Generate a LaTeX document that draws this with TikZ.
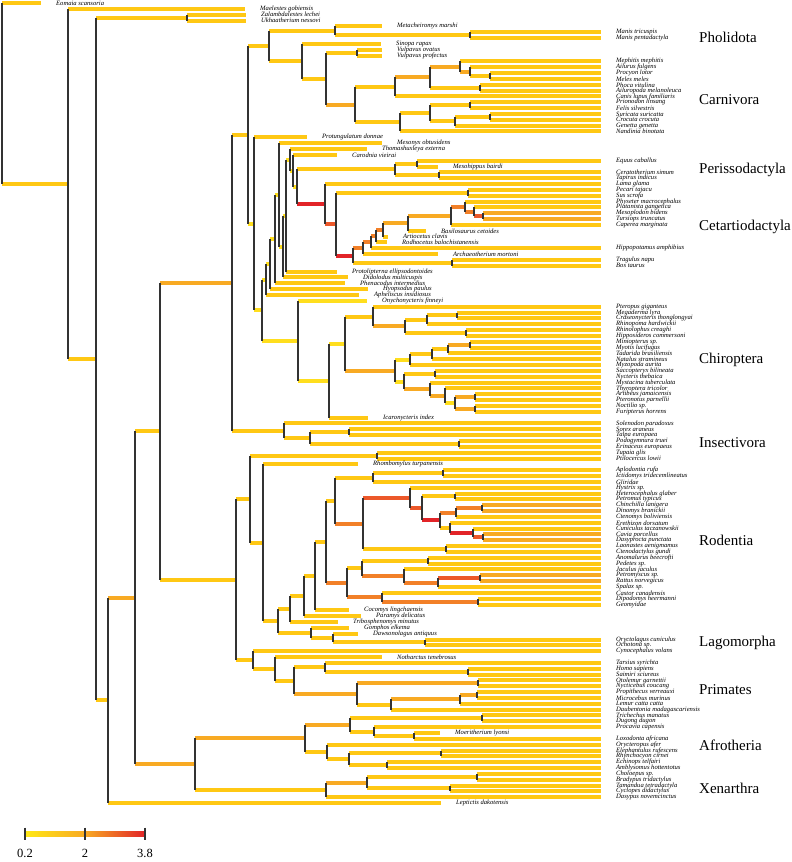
\documentclass[tikz,border=0pt]{standalone}
\usepackage{fontspec}
\setmainfont{Liberation Serif}
\usetikzlibrary{positioning}
\definecolor{rateA}{RGB}{255,222,30}
\definecolor{rateB}{RGB}{255,200,20}
\definecolor{rateC}{RGB}{248,170,35}
\definecolor{rateD}{RGB}{242,128,40}
\definecolor{rateE}{RGB}{236,88,42}
\definecolor{rateF}{RGB}{226,36,40}
\tikzset{
  branch/.style={line width=4pt},
  joint/.style={draw=black!80,line width=1.1pt},
  tiplab/.style={anchor=west,inner sep=0pt,font=\itshape\fontsize{6.6}{7}\selectfont},
  cladelab/.style={anchor=west,inner sep=0pt,font=\fontsize{15}{18}\selectfont},
  scalelab/.style={inner sep=0pt,font=\fontsize{12.5}{14}\selectfont}
}
\begin{document}
\begin{tikzpicture}[x=1pt,y=-5.84pt]
  \useasboundingbox (0,-0.5137) rectangle (792,147.09);
  % internal branches: parent x / node x / node y / rate colour
  \foreach \xa/\xb/\yy/\cc in {
    2/68/30.98/rateB, 68/96/60.96/rateB, 96/187/2.5/rateB, 96/108/119.41/rateB,
    108/135/101.83/rateC, 135/160/73.31/rateB, 135/195/130.34/rateC,
    160/232/47.9/rateC, 160/236/98.73/rateB,
    232/248/22.58/rateB, 248/269/7.36/rateB, 269/335/4.75/rateB, 335/470/5.5/rateB,
    269/302/9.97/rateB, 302/326/12.95/rateB, 326/357/8.5/rateB, 326/355/17.39/rateC,
    355/395/14.34/rateB, 395/430/12.69/rateC, 430/460/10.875/rateC, 460/470/11.75/rateC,
    470/490/12.5/rateB, 430/480/14.5/rateB, 355/400/20.44/rateB, 400/430/18.875/rateB,
    430/470/17.5/rateB, 430/455/20.25/rateB, 455/490/19.5/rateB,
    248/254/37.8/rateA, 254/262/52.6/rateA, 262/266/47.36/rateA, 266/270/44.72/rateA,
    270/275/40.43/rateA, 275/279/32.86/rateA, 279/283/41.72/rateA, 283/286/36.43/rateA,
    286/290/26.87/rateA, 290/293/28.73/rateA, 293/297/31.47/rateA,
    297/395/28.5/rateB, 395/417/27.5/rateB, 395/439/29.5/rateB,
    297/325/34.43/rateF, 325/336/37.87/rateE, 336/468/32.5/rateB, 336/353/43.24/rateF,
    353/363/41.98/rateD, 353/452/44.5/rateB, 363/371/40.96/rateD, 371/376/39.93/rateD,
    376/383/38.86/rateD, 383/408/37.72/rateC, 408/451/36.44/rateC, 451/465/34.875/rateD,
    465/474/35.75/rateD, 474/483/36.5/rateE,
    262/298/57.83/rateA, 298/329/64.656/rateA, 329/345/58.3125/rateA, 345/373/53.6875/rateB,
    373/405/55.375/rateC, 405/427/54.25/rateB, 427/457/53.5/rateB, 405/466/56.5/rateB,
    345/395/62.9375/rateC, 395/410/61.0625/rateA, 410/432/60.125/rateB, 432/448/59.25/rateB,
    448/470/58.5/rateC, 395/404/64.8125/rateA, 404/435/63.5/rateB, 404/430/66.125/rateC,
    430/445/67.25/rateC, 445/455/68.5/rateA, 455/475/67.5/rateC, 455/475/69.5/rateC,
    232/284/73.25/rateB, 284/310/74.5/rateB, 310/349/73.5/rateB, 310/459/75.5/rateB,
    236/250/84.96/rateB, 250/377/77.5/rateB, 250/263/92.41/rateB, 263/278/105.83/rateB,
    278/290/103.78/rateB, 290/304/101.56/rateB, 304/315/98.12/rateB, 315/326/92.23/rateB,
    326/335/85.19/rateB, 335/373/81.25/rateB, 373/443/80.5/rateB, 335/363/89.13/rateD,
    363/410/84.77/rateE, 410/422/86.53/rateE, 422/455/84.5/rateB, 422/440/88.5625/rateF,
    440/456/87.25/rateD, 456/482/86.5/rateD, 440/450/89.875/rateB, 450/473/90.75/rateF,
    473/483/91.5/rateE, 363/446/93.5/rateB,
    326/347/99.28/rateD, 347/362/96.81/rateB, 362/428/95.5/rateB, 362/404/98.125/rateD,
    404/438/99.25/rateD, 438/480/98.5/rateE, 347/382/101.75/rateD, 382/478/102.5/rateD,
    278/311/107.875/rateB, 311/333/108.75/rateB, 333/425/109.5/rateB,
    236/253/112.51/rateB, 253/275/114.02/rateB, 275/294/116.03/rateB, 294/325/113.75/rateB,
    325/468/114.5/rateB, 294/357/118.31/rateC, 357/478/116.5/rateC, 357/391/120.125/rateB,
    391/460/119.25/rateC, 460/477/118.5/rateC,
    195/305/125.94/rateC, 305/350/123.625/rateC, 350/482/122.5/rateB, 350/374/124.75/rateB,
    374/414/125.5/rateB, 305/327/128.25/rateB, 327/349/129.5/rateB, 349/441/128.5/rateB,
    349/387/130.5/rateB, 195/326/134.75/rateB, 326/367/133.5/rateC, 367/477/132.5/rateB,
    367/450/134.5/rateB}
    \draw[branch,draw=\cc] (\xa,\yy) -- (\xb,\yy);
  % terminal branches and taxon names: index / parent x / end x / colour / name
  \foreach \i/\xa/\xe/\cc/\nm in {
    0/2/41/rateB/Eomaia scansoria, 1/68/245/rateB/Maelestes gobiensis,
    2/187/246/rateB/Zalambdalestes lechei, 3/187/246/rateB/Ukhaatherium nessovi,
    4/335/382/rateB/Metacheiromys marshi, 5/470/601/rateB/Manis tricuspis,
    6/470/601/rateB/Manis pentadactyla, 7/302/381/rateB/Sinopa rapax,
    8/357/382/rateB/Vulpavus ovatus, 9/357/382/rateB/Vulpavus profectus,
    10/460/601/rateB/Mephitis mephitis, 11/470/601/rateB/Ailurus fulgens,
    12/490/601/rateB/Procyon lotor, 13/490/601/rateB/Meles meles,
    14/480/601/rateB/Phoca vitulina, 15/480/601/rateB/Ailuropoda melanoleuca,
    16/395/601/rateB/Canis lupus familiaris, 17/470/601/rateB/Prionodon linsang,
    18/470/601/rateB/Felis silvestris, 19/490/601/rateB/Suricata suricatta,
    20/490/601/rateB/Crocuta crocuta, 21/455/601/rateB/Genetta genetta,
    22/400/601/rateB/Nandinia binotata, 23/254/307/rateB/Protungulatum donnae,
    24/279/382/rateB/Mesonyx obtusidens, 25/290/367/rateB/Thomashuxleya externa,
    26/293/337/rateB/Carodnia vieirai, 27/417/601/rateB/Equus caballus,
    28/417/438/rateB/Mesohippus bairdi, 29/439/601/rateB/Ceratotherium simum,
    30/439/601/rateB/Tapirus indicus, 31/325/601/rateB/Lama glama,
    32/468/601/rateB/Pecari tajacu, 33/468/601/rateB/Sus scrofa,
    34/465/601/rateB/Physeter macrocephalus, 35/474/601/rateB/Platanista gangetica,
    36/483/601/rateC/Mesoplodon bidens, 37/483/601/rateC/Tursiops truncatus,
    38/451/601/rateB/Caperea marginata, 39/408/426/rateB/Basilosaurus cetoides,
    40/383/388/rateB/Artiocetus clavis, 41/376/387/rateB/Rodhocetus balochistanensis,
    42/371/601/rateB/Hippopotamus amphibius, 43/363/438/rateB/Archaeotherium mortoni,
    44/452/601/rateB/Tragulus napu, 45/452/601/rateB/Bos taurus,
    46/286/337/rateB/Protolipterna ellipsodontoides, 47/283/348/rateB/Didolodus multicuspis,
    48/275/345/rateB/Phenacodus intermedius, 49/270/368/rateB/Hyopsodus paulus,
    50/266/359/rateB/Apheliscus insidiosus, 51/298/367/rateA/Onychonycteris finneyi,
    52/373/601/rateB/Pteropus giganteus, 53/457/601/rateB/Megaderma lyra,
    54/457/601/rateB/Craseonycteris thonglongyai, 55/427/601/rateB/Rhinopoma hardwickii,
    56/466/601/rateB/Rhinolophus creaghi, 57/466/601/rateB/Hipposideros commersoni,
    58/470/601/rateB/Miniopterus sp., 59/470/601/rateB/Myotis lucifugus,
    60/448/601/rateB/Tadarida brasiliensis, 61/432/601/rateB/Natalus stramineus,
    62/410/601/rateB/Myzopoda aurita, 63/435/601/rateB/Saccopteryx bilineata,
    64/435/601/rateB/Nycteris thebaica, 65/430/601/rateB/Mystacina tuberculata,
    66/445/601/rateB/Thyroptera tricolor, 67/475/601/rateB/Artibeus jamaicensis,
    68/475/601/rateB/Pteronotus parnellii, 69/475/601/rateB/Noctilio sp.,
    70/475/601/rateB/Furipterus horrens, 71/329/368/rateB/Icaronycteris index,
    72/284/601/rateB/Solenodon paradoxus, 73/349/601/rateB/Sorex araneus,
    74/349/601/rateB/Talpa europaea, 75/459/601/rateB/Podogymnura truei,
    76/459/601/rateB/Erinaceus europaeus, 77/377/601/rateB/Tupaia glis,
    78/377/601/rateB/Ptilocercus lowii, 79/263/358/rateB/Rhombomylus turpanensis,
    80/443/601/rateB/Aplodontia rufa, 81/443/601/rateB/Ictidomys tridecemlineatus,
    82/373/601/rateB/Gliridae, 83/410/601/rateB/Hystrix sp.,
    84/455/601/rateB/Heterocephalus glaber, 85/455/601/rateB/Petromus typicus,
    86/482/601/rateC/Chinchilla lanigera, 87/482/601/rateC/Dinomys branickii,
    88/456/601/rateB/Ctenomys boliviensis, 89/450/601/rateB/Erethizon dorsatum,
    90/473/601/rateB/Cuniculus taczanowskii, 91/483/601/rateC/Cavia porcellus,
    92/483/601/rateC/Dasyprocta punctata, 93/446/601/rateB/Laonastes aenigmamus,
    94/446/601/rateB/Ctenodactylus gundi, 95/428/601/rateB/Anomalurus beecrofti,
    96/428/601/rateB/Pedetes sp., 97/404/601/rateB/Jaculus jaculus,
    98/480/601/rateC/Petromyscus sp., 99/480/601/rateC/Rattus norvegicus,
    100/438/601/rateB/Spalax sp., 101/382/601/rateB/Castor canadensis,
    102/478/601/rateB/Dipodomys heermanni, 103/478/601/rateB/Geomyidae,
    104/315/349/rateB/Cocomys lingchaensis, 105/304/361/rateB/Paramys delicatus,
    106/290/338/rateB/Tribosphenomys minutus, 107/311/349/rateB/Gomphos elkema,
    108/333/358/rateB/Dawsonolagus antiquus, 109/425/601/rateB/Oryctolagus cuniculus,
    110/425/601/rateB/Ochotona sp., 111/253/601/rateB/Cynocephalus volans,
    112/275/382/rateB/Notharctus tenebrosus, 113/325/601/rateB/Tarsius syrichta,
    114/468/601/rateB/Homo sapiens, 115/468/601/rateB/Saimiri sciureus,
    116/478/601/rateB/Otolemur garnettii, 117/478/601/rateB/Nycticebus coucang,
    118/477/601/rateB/Propithecus verreauxi, 119/477/601/rateB/Microcebus murinus,
    120/460/601/rateB/Lemur catta catta, 121/391/601/rateB/Daubentonia madagascariensis,
    122/482/601/rateB/Trichechus manatus, 123/482/601/rateB/Dugong dugon,
    124/374/601/rateB/Procavia capensis, 125/414/440/rateB/Moeritherium lyonsi,
    126/414/601/rateB/Loxodonta africana, 127/327/601/rateB/Orycteropus afer,
    128/441/601/rateB/Elephantulus rufescens, 129/441/601/rateB/Rhynchocyon cirnei,
    130/387/601/rateB/Echinops telfairi, 131/387/601/rateB/Amblysomus hottentotus,
    132/477/601/rateB/Choloepus sp., 133/477/601/rateB/Bradypus tridactylus,
    134/450/601/rateB/Tamandua tetradactyla, 135/450/601/rateB/Cyclopes didactylus,
    136/326/601/rateB/Dasypus novemcinctus, 137/108/441/rateB/Leptictis dakotensis}
  {
    \draw[branch,draw=\cc] (\xa,\i) -- (\xe,\i);
    \node[tiplab] (tip\i) at (\xe+15,\i) {\nm};
  }
  % node joints: x / first child / last child
  \foreach \xx/\ya/\yb in {
    2/0/30.98, 68/1/60.96, 96/2.5/119.41, 187/2/3, 108/101.83/137, 135/73.31/130.34,
    160/47.9/98.73, 195/125.94/134.75, 232/22.58/73.25, 236/84.96/112.51,
    248/7.36/37.8, 269/4.75/9.97, 335/4/5.5, 470/5/6, 302/7/12.95, 326/8.5/17.39,
    357/8/9, 355/14.34/20.44, 395/12.69/16, 430/10.875/14.5, 460/10/11.75, 470/11/12.5,
    490/12/13, 480/14/15, 400/18.875/22, 430/17.5/20.25, 470/17/18, 455/19.5/21, 490/19/20,
    254/23/52.6, 262/47.36/57.83, 266/44.72/50, 270/40.43/49, 275/32.86/48, 279/24/41.72,
    283/36.43/47, 286/26.87/46, 290/25/28.73, 293/26/31.47, 297/28.5/34.43,
    395/27.5/29.5, 417/27/28, 439/29/30, 325/31/37.87, 336/32.5/43.24, 468/32/33,
    353/41.98/44.5, 363/40.96/43, 452/44/45, 371/39.93/42, 376/38.86/41, 383/37.72/40,
    408/36.44/39, 451/34.875/38, 465/34/35.75, 474/35/36.5, 483/36/37,
    298/51/64.656, 329/58.3125/71, 345/53.6875/62.9375, 373/52/55.375, 405/54.25/56.5,
    427/53.5/55, 457/53/54, 466/56/57, 395/61.0625/64.8125, 410/60.125/62, 432/59.25/61,
    448/58.5/60, 470/58/59, 404/63.5/66.125, 435/63/64, 430/65/67.25, 445/66/68.5,
    455/67.5/69.5, 475/67/68, 475/69/70,
    284/72/74.5, 310/73.5/75.5, 349/73/74, 459/75/76,
    250/77.5/92.41, 377/77/78, 263/79/105.83, 278/103.78/107.875, 290/101.56/106,
    304/98.12/105, 315/92.23/104, 326/85.19/99.28, 335/81.25/89.13, 373/80.5/82,
    443/80/81, 363/84.77/93.5, 410/83/86.53, 422/84.5/88.5625, 455/84/85,
    440/87.25/89.875, 456/86.5/88, 482/86/87, 450/89/90.75, 473/90/91.5, 483/91/92,
    446/93/94, 347/96.81/101.75, 362/95.5/98.125, 428/95/96, 404/97/99.25,
    438/98.5/100, 480/98/99, 382/101/102.5, 478/102/103, 311/107/108.75,
    333/108/109.5, 425/109/110, 253/111/114.02, 275/112/116.03, 294/113.75/118.31,
    325/113/114.5, 468/114/115, 357/116.5/120.125, 478/116/117, 391/119.25/121,
    460/118.5/120, 477/118/119,
    305/123.625/128.25, 350/122.5/124.75, 482/122/123, 374/124/125.5, 414/125/126,
    327/127/129.5, 349/128.5/130.5, 441/128/129, 387/130/131, 326/133.5/136,
    367/132.5/134.5, 477/132/133, 450/134/135}
    \draw[joint] (\xx,\ya) -- (\xx,\yb);
  % clade names
  \foreach \yy/\cl in {5.9/Pholidota, 16.6/Carnivora, 28.6/Perissodactyla,
    38.4/Cetartiodactyla, 61.1/Chiroptera, 75.2/Insectivora, 92/Rodentia,
    109.6/Lagomorpha, 117.5/Primates, 127.1/Afrotheria, 134.4/Xenarthra}
    \node[cladelab] (clade-\cl) at (699,\yy) {\cl};
  % rate scale
  \shade[left color=rateA!70!yellow, right color=rateC] (25,141.95) rectangle (85,142.65);
  \shade[left color=rateC, right color=rateF] (85,141.95) rectangle (145,142.65);
  \foreach \xx/\vv in {25/0.2, 85/2, 145/3.8} {
    \draw[joint] (\xx,141.2) -- (\xx,143.4);
    \node[scalelab] (scale-\xx) at (\xx,145.55) {\vv};
  }
\end{tikzpicture}
\end{document}
